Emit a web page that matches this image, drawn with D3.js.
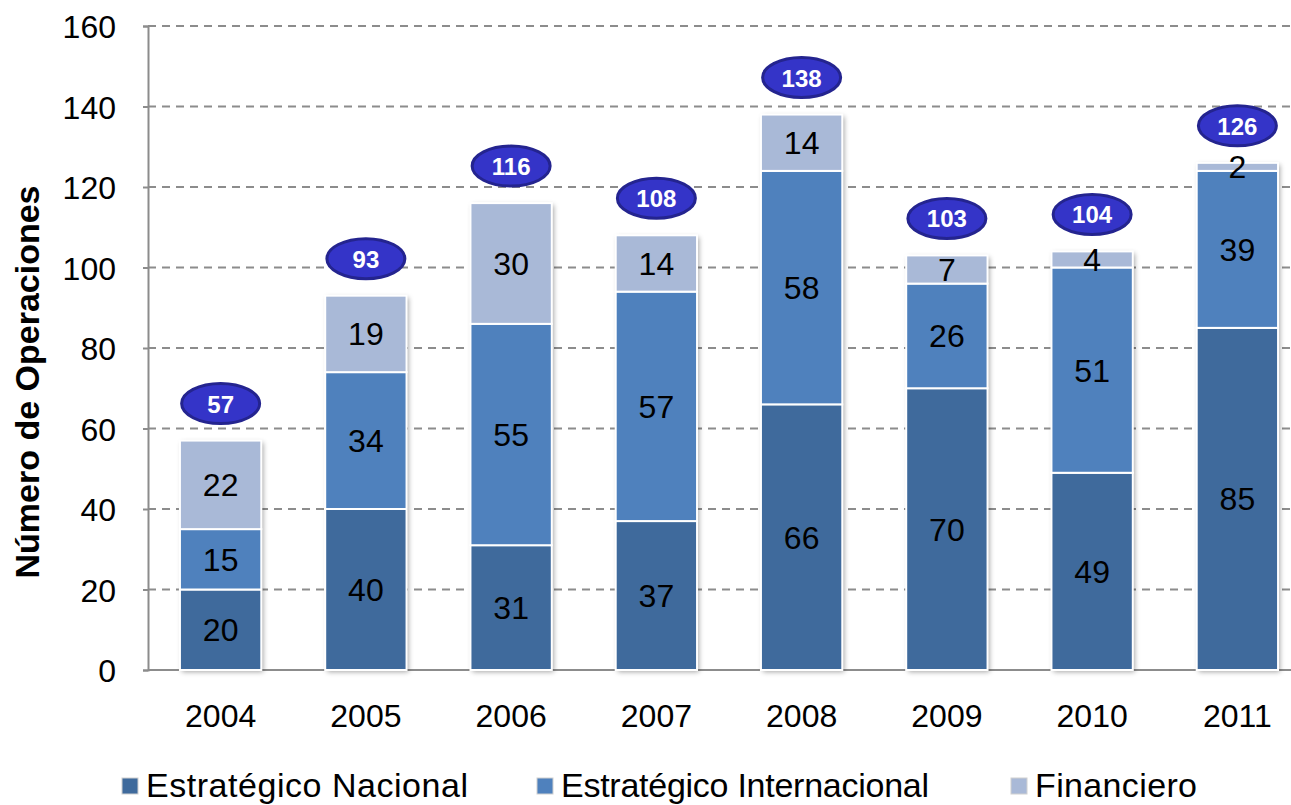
<!DOCTYPE html>
<html>
<head>
<meta charset="utf-8">
<script src="https://cdn.jsdelivr.net/npm/d3@7"></script>
<style>
  body { margin: 0; background: #fff; }
  svg { display: block; font-family: "Liberation Sans", Arial, sans-serif; }
</style>
</head>
<body>
<div id="chart"></div>
<script>
const years = ['2004', '2005', '2006', '2007', '2008', '2009', '2010', '2011']
const nacional = [20, 40, 31, 37, 66, 70, 49, 85]
const internacional = [15, 34, 55, 57, 58, 26, 51, 39]
const financiero = [22, 19, 30, 14, 14, 7, 4, 2]
const totals = [57, 93, 116, 108, 138, 103, 104, 126]
const yTicks = [0, 20, 40, 60, 80, 100, 120, 140, 160]

const seriesNames = ['Estratégico Nacional', 'Estratégico Internacional', 'Financiero']
const colors = ['#3F6A9C', '#4F81BD', '#A9B9D7']

const W = 1291, H = 805
const svg = d3.select('#chart').append('svg').attr('width', W).attr('height', H)

const defs = svg.append('defs')
const shadow = defs.append('filter').attr('id', 'shadow')
  .attr('x', '-20%').attr('y', '-20%').attr('width', '140%').attr('height', '140%')
shadow.append('feDropShadow')
  .attr('dx', 2).attr('dy', 2).attr('stdDeviation', 2.5)
  .attr('flood-color', '#000').attr('flood-opacity', 0.35)

const x = d3.scaleBand().domain(years).range([148, 1310]).paddingInner(0.44).paddingOuter(0.22)
const y = d3.scaleLinear().domain([0, 160]).range([670, 26])

// grid
svg.append('g')
  .selectAll('line')
  .data(yTicks.filter(d => d > 0))
  .enter()
  .append('line')
  .attr('x1', 148).attr('x2', W)
  .attr('y1', d => y(d)).attr('y2', d => y(d))
  .attr('stroke', '#8c8c8c')
  .attr('stroke-width', 2)
  .attr('stroke-dasharray', '8,6')

// y axis
const yAxis = d3.axisLeft(y).tickValues(yTicks).tickSize(5).tickPadding(27)
const yg = svg.append('g').attr('transform', 'translate(148,0)').call(yAxis)
yg.select('.domain').attr('stroke', '#8c8c8c').attr('stroke-width', 2)
yg.selectAll('.tick line').attr('stroke', '#8c8c8c').attr('stroke-width', 2)
yg.selectAll('.tick text').attr('font-size', 32).attr('fill', '#000').attr('dy', '0.36em')
  .style('font-family', '"Liberation Sans", Arial, sans-serif')

// x axis
svg.append('line')
  .attr('x1', 148).attr('x2', W)
  .attr('y1', 670).attr('y2', 670)
  .attr('stroke', '#8c8c8c').attr('stroke-width', 2)

svg.append('g')
  .selectAll('text')
  .data(years)
  .enter()
  .append('text')
  .attr('x', d => x(d) + x.bandwidth() / 2)
  .attr('y', 727)
  .attr('text-anchor', 'middle')
  .attr('font-size', 32)
  .text(d => d)

// y title
svg.append('text')
  .attr('transform', 'translate(39,382) rotate(-90)')
  .attr('text-anchor', 'middle')
  .attr('font-size', 34)
  .attr('font-weight', 'bold')
  .text('Número de Operaciones')

// stacked bars
const table = years.map((yr, i) => ({ year: yr, s0: nacional[i], s1: internacional[i], s2: financiero[i] }))
const stack = d3.stack().keys(['s0', 's1', 's2'])(table)

svg.append('g')
  .selectAll('rect')
  .data(table)
  .enter()
  .append('rect')
  .attr('x', d => x(d.year))
  .attr('width', x.bandwidth())
  .attr('y', (d, i) => y(totals[i]))
  .attr('height', (d, i) => y(0) - y(totals[i]))
  .attr('fill', '#fff')
  .attr('filter', 'url(#shadow)')

const layers = svg.append('g')
  .selectAll('g')
  .data(stack)
  .enter()
  .append('g')
  .attr('fill', (d, i) => colors[i])

layers.selectAll('rect')
  .data(d => d)
  .enter()
  .append('rect')
  .attr('x', d => x(d.data.year))
  .attr('width', x.bandwidth())
  .attr('y', d => y(d[1]))
  .attr('height', d => y(d[0]) - y(d[1]))
  .attr('stroke', '#fff')
  .attr('stroke-width', 2)

layers.selectAll('text')
  .data((d, i) => d.map(p => ({ p, v: p[1] - p[0] })))
  .enter()
  .append('text')
  .attr('x', d => x(d.p.data.year) + x.bandwidth() / 2)
  .attr('y', d => (y(d.p[0]) + y(d.p[1])) / 2 + 11.5)
  .attr('text-anchor', 'middle')
  .attr('font-size', 32)
  .attr('fill', '#000')
  .text(d => d.v)

// total badges
const badges = svg.append('g')
  .selectAll('g')
  .data(years)
  .enter()
  .append('g')
  .attr('transform', (d, i) => `translate(${x(d) + x.bandwidth() / 2},${y(totals[i]) - 37})`)

badges.append('ellipse')
  .attr('rx', 39).attr('ry', 20)
  .attr('fill', '#3434C8')
  .attr('stroke', '#24248F')
  .attr('stroke-width', 3)

badges.append('text')
  .attr('y', 9)
  .attr('text-anchor', 'middle')
  .attr('font-size', 24)
  .attr('font-weight', 'bold')
  .attr('fill', '#fff')
  .text((d, i) => totals[i])

// legend
const legendX = [122, 537, 1011]
const legend = svg.append('g')
  .selectAll('g')
  .data(seriesNames)
  .enter()
  .append('g')
  .attr('transform', (d, i) => `translate(${legendX[i]},778)`)

legend.append('rect')
  .attr('width', 16).attr('height', 16)
  .attr('y', 0)
  .attr('fill', (d, i) => colors[i])
  .attr('stroke', '#d0d0d0')
  .attr('stroke-width', 1)

legend.append('text')
  .attr('x', 24)
  .attr('y', 19)
  .attr('font-size', 34)
  .attr('textLength', (d, i) => [322, 368, 162][i])
  .text(d => d)
</script>
</body>
</html>
